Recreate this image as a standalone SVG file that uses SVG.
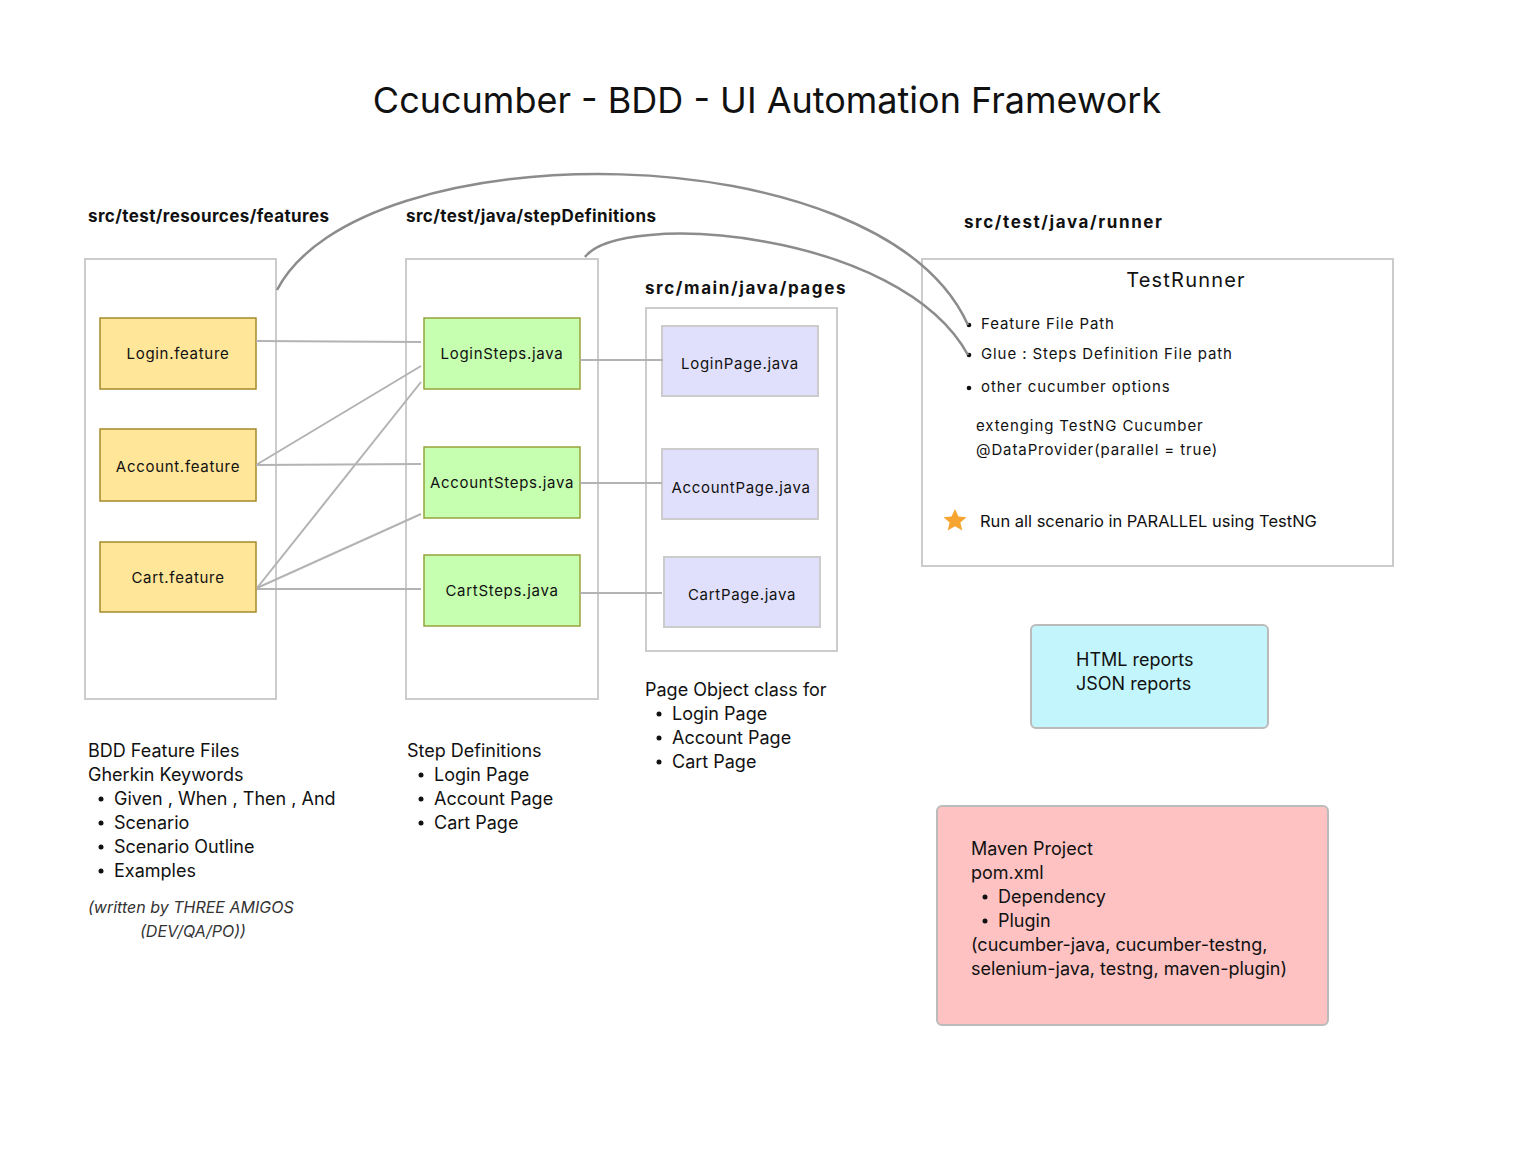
<svg xmlns="http://www.w3.org/2000/svg" width="1536" height="1152" viewBox="0 0 1536 1152">
<style>
text{font-family:Inter,"Noto Sans","Liberation Sans",sans-serif;fill:#111}
.title{font-size:36px}
.hdr{font-size:17px;font-weight:700;letter-spacing:0.4px}
.hdr2{font-size:17px;font-weight:700;letter-spacing:1.6px}
.node{font-size:15px;letter-spacing:0.7px}
.body{font-size:18px}
.small{font-size:15px;letter-spacing:0.9px}
.ital{font-size:16px;font-style:italic;fill:#333}
.cont{fill:#fff;stroke:#cccccc;stroke-width:2}
.feat{fill:#ffe699;stroke:#a5892a;stroke-width:1.5}
.step{fill:#c6ffb0;stroke:#98a23a;stroke-width:1.5}
.page{fill:#e1e0fc;stroke:#cccccc;stroke-width:2}
.conn{stroke:#b3b3b3;stroke-width:2;fill:none}
.curve{stroke:#8c8c8c;stroke-width:2.5;fill:none}
</style>
<rect width="1536" height="1152" fill="#fff"/>
<text class="title" x="767" y="113" text-anchor="middle">Ccucumber - BDD - UI Automation Framework</text>

<text class="hdr" x="88" y="222">src/test/resources/features</text>
<text class="hdr" x="406" y="222">src/test/java/stepDefinitions</text>
<text class="hdr2" x="964" y="228">src/test/java/runner</text>
<text class="hdr2" x="645" y="294">src/main/java/pages</text>

<g id="features-container"><rect class="cont" x="85" y="259" width="191" height="440"/></g>
<g id="steps-container"><rect class="cont" x="406" y="259" width="192" height="440"/></g>
<g id="pages-container"><rect class="cont" x="646" y="308" width="191" height="343"/></g>

<g id="login-feature"><rect class="feat" x="100" y="318" width="156" height="71"/><text class="node" x="178" y="359" text-anchor="middle">Login.feature</text></g>
<g id="account-feature"><rect class="feat" x="100" y="429" width="156" height="72"/><text class="node" x="178" y="472" text-anchor="middle">Account.feature</text></g>
<g id="cart-feature"><rect class="feat" x="100" y="542" width="156" height="70"/><text class="node" x="178" y="583" text-anchor="middle">Cart.feature</text></g>

<g id="login-steps"><rect class="step" x="424" y="318" width="156" height="71"/><text class="node" x="502" y="359" text-anchor="middle">LoginSteps.java</text></g>
<g id="account-steps"><rect class="step" x="424" y="447" width="156" height="71"/><text class="node" x="502" y="488" text-anchor="middle">AccountSteps.java</text></g>
<g id="cart-steps"><rect class="step" x="424" y="555" width="156" height="71"/><text class="node" x="502" y="596" text-anchor="middle">CartSteps.java</text></g>

<g id="login-page"><rect class="page" x="662" y="326" width="156" height="70"/><text class="node" x="740" y="369" text-anchor="middle">LoginPage.java</text></g>
<g id="account-page"><rect class="page" x="662" y="449" width="156" height="70"/><text class="node" x="741" y="493" text-anchor="middle">AccountPage.java</text></g>
<g id="cart-page"><rect class="page" x="664" y="557" width="156" height="70"/><text class="node" x="742" y="600" text-anchor="middle">CartPage.java</text></g>

<g id="test-runner">
<rect class="cont" x="922" y="259" width="471" height="307"/>
<text x="1186" y="287" text-anchor="middle" style="font-size:20px;letter-spacing:1.2px">TestRunner</text>
<circle cx="969" cy="325" r="2.3" fill="#111"/>
<circle cx="969" cy="355" r="2.3" fill="#111"/>
<circle cx="969" cy="388" r="2.3" fill="#111"/>
<text class="small" x="981" y="329">Feature File Path</text>
<text class="small" x="981" y="359">Glue : Steps Definition File path</text>
<text class="small" x="981" y="392">other cucumber options</text>
<text class="small" x="976" y="431">extenging TestNG Cucumber</text>
<text class="small" x="976" y="455">@DataProvider(parallel = true)</text>
<polygon fill="#f7a531" points="955,509 958.5,516.5 966.5,517.2 960.4,522.5 962.3,530.4 955,526.2 947.7,530.4 949.6,522.5 943.5,517.2 951.5,516.5"/>
<text x="980" y="527" style="font-size:16.5px">Run all scenario in PARALLEL using TestNG</text>
</g>

<g id="reports">
<rect x="1031" y="625" width="237" height="103" rx="5" fill="#c3f6fc" stroke="#bbbbbb" stroke-width="2"/>
<text class="body" x="1076" y="666">HTML reports</text>
<text class="body" x="1076" y="690">JSON reports</text>
</g>

<g id="maven">
<rect x="937" y="806" width="391" height="219" rx="5" fill="#ffc2c2" stroke="#bbbbbb" stroke-width="2"/>
<text class="body" x="971" y="855">Maven Project</text>
<text class="body" x="971" y="879">pom.xml</text>
<circle cx="985" cy="897" r="2.5" fill="#111"/>
<text class="body" x="998" y="903">Dependency</text>
<circle cx="985" cy="921" r="2.5" fill="#111"/>
<text class="body" x="998" y="927">Plugin</text>
<text class="body" x="971" y="951">(cucumber-java, cucumber-testng,</text>
<text class="body" x="971" y="975">selenium-java, testng, maven-plugin)</text>
</g>

<g id="features-notes">
<text class="body" x="88" y="757">BDD Feature Files</text>
<text class="body" x="88" y="781">Gherkin Keywords</text>
<circle cx="101" cy="799" r="2.5" fill="#111"/><text class="body" x="114" y="805">Given , When , Then , And</text>
<circle cx="101" cy="823" r="2.5" fill="#111"/><text class="body" x="114" y="829">Scenario</text>
<circle cx="101" cy="847" r="2.5" fill="#111"/><text class="body" x="114" y="853">Scenario Outline</text>
<circle cx="101" cy="871" r="2.5" fill="#111"/><text class="body" x="114" y="877">Examples</text>
<text class="ital" x="88" y="913">(written by THREE AMIGOS</text>
<text class="ital" x="140" y="937">(DEV/QA/PO))</text>
</g>

<g id="steps-notes">
<text class="body" x="407" y="757">Step Definitions</text>
<circle cx="421" cy="775" r="2.5" fill="#111"/><text class="body" x="434" y="781">Login Page</text>
<circle cx="421" cy="799" r="2.5" fill="#111"/><text class="body" x="434" y="805">Account Page</text>
<circle cx="421" cy="823" r="2.5" fill="#111"/><text class="body" x="434" y="829">Cart Page</text>
</g>

<g id="pages-notes">
<text class="body" x="645" y="696">Page Object class for</text>
<circle cx="659" cy="714" r="2.5" fill="#111"/><text class="body" x="672" y="720">Login Page</text>
<circle cx="659" cy="738" r="2.5" fill="#111"/><text class="body" x="672" y="744">Account Page</text>
<circle cx="659" cy="762" r="2.5" fill="#111"/><text class="body" x="672" y="768">Cart Page</text>
</g>

<g id="connectors">
<line class="conn" x1="256" y1="341" x2="421" y2="342"/>
<line class="conn" x1="256" y1="465" x2="421" y2="366"/>
<line class="conn" x1="256" y1="465" x2="421" y2="464"/>
<line class="conn" x1="257" y1="588" x2="421" y2="382"/>
<line class="conn" x1="257" y1="588" x2="421" y2="514"/>
<line class="conn" x1="257" y1="589" x2="421" y2="589"/>
<line class="conn" x1="580" y1="360" x2="663" y2="360"/>
<line class="conn" x1="580" y1="483" x2="662" y2="483"/>
<line class="conn" x1="580" y1="593" x2="662" y2="593"/>
<path class="curve" d="M277,290 C360,130 880,130 968,325"/>
<path class="curve" d="M585,257 C620,210 900,230 968,355"/>
</g>
</svg>
